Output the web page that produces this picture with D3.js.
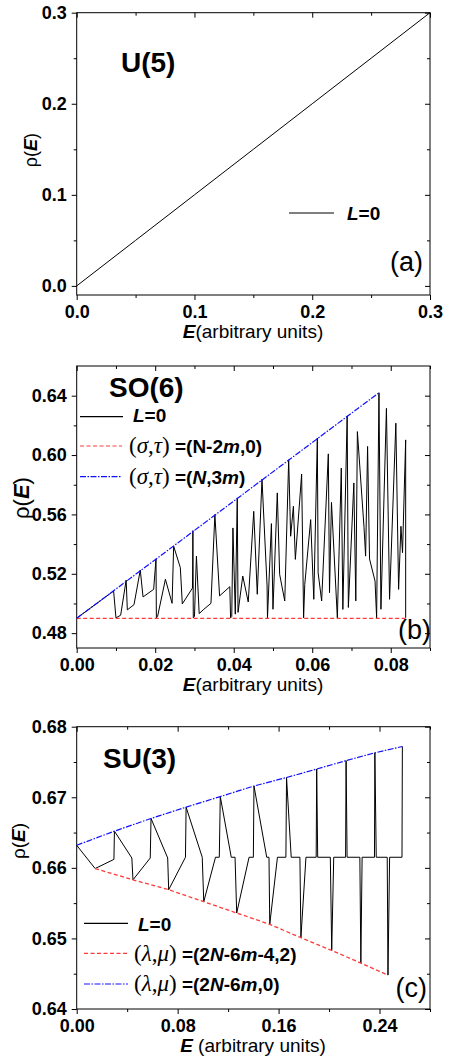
<!DOCTYPE html>
<html>
<head>
<meta charset="utf-8">
<script src="https://cdn.jsdelivr.net/npm/d3@7"></script>
<style>
  body { margin: 0; background: #fff; }
  text { font-family: "Liberation Sans", Arial, sans-serif; }
</style>
</head>
<body>
<div id="chart"></div>
<script>

// ---------- data ----------

// (a) U(5)
var u5E   = [0, 0.05, 0.1, 0.15, 0.2, 0.25, 0.3];
var u5Rho = [0, 0.05, 0.1, 0.15, 0.2, 0.25, 0.3];

// (b) SO(6), L=0 states
var so6E = [0, 0.0094, 0.0100, 0.0112, 0.0126, 0.0129, 0.0146, 0.0162, 0.0169, 0.0196,
            0.0202, 0.0203, 0.0206, 0.0226, 0.0243, 0.0247, 0.0264, 0.0269, 0.0295, 0.0296,
            0.0297, 0.0300, 0.0305, 0.0312, 0.0324, 0.0342, 0.0352, 0.0364, 0.0390, 0.0392,
            0.0395, 0.0398, 0.0404, 0.0409, 0.0411, 0.0423, 0.0437, 0.0451, 0.0460, 0.0472,
            0.0485, 0.0486, 0.0496, 0.0500, 0.0511, 0.0517, 0.0530, 0.0540, 0.0545, 0.0552,
            0.0557, 0.0573, 0.0578, 0.0581, 0.0596, 0.0604, 0.0613, 0.0615, 0.0624, 0.0641,
            0.0644, 0.0649, 0.0664, 0.0674, 0.0678, 0.0689, 0.0692, 0.0706, 0.0711, 0.0715,
            0.0732, 0.0736, 0.0741, 0.0746, 0.0760, 0.0764, 0.0770, 0.0775, 0.0789, 0.0797,
            0.0813, 0.0820, 0.0826, 0.0830, 0.0838, 0.0838];
var so6Rho = [0.4901, 0.5084, 0.4903, 0.4921, 0.5158, 0.4957, 0.4992, 0.5225, 0.5044, 0.5095,
              0.5301, 0.4903, 0.4912, 0.5163, 0.5001, 0.5386, 0.5241, 0.4997, 0.5104, 0.5491,
              0.4903, 0.4912, 0.5319, 0.4932, 0.4961, 0.5001, 0.5599, 0.5051, 0.5113, 0.4903,
              0.4912, 0.5509, 0.4928, 0.5711, 0.4940, 0.5185, 0.5010, 0.5621, 0.5062, 0.5838,
              0.5118, 0.4903, 0.5538, 0.4961, 0.5745, 0.5196, 0.5017, 0.5968, 0.5453, 0.5655,
              0.5297, 0.5872, 0.4903, 0.5129, 0.5565, 0.5028, 0.6114, 0.5207, 0.5017, 0.6008,
              0.5073, 0.5681, 0.4903, 0.5912, 0.4960, 0.6264, 0.4973, 0.5812, 0.5017, 0.6158,
              0.5510, 0.5319, 0.6058, 0.5300, 0.5151, 0.4903, 0.6420, 0.4961, 0.6315, 0.5028,
              0.6215, 0.5095, 0.5520, 0.5342, 0.6102, 0.4903];
// (sigma,tau)=(N-2m,0) and (N,3m)
var so6LowE = [0, 0.0838],  so6LowRho = [0.49, 0.49];
var so6UpE  = [0, 0.0770],  so6UpRho  = [0.49, 0.642];

// (c) SU(3), L=0 states
var su3E = [0, 0.0146, 0.0295, 0.0299, 0.0437, 0.0446, 0.0583, 0.0589, 0.0721, 0.0729,
            0.0862, 0.0867, 0.0995, 0.1007, 0.1100, 0.1130, 0.1138, 0.1225, 0.1255, 0.1268,
            0.1366, 0.1400, 0.1405, 0.1506, 0.1524, 0.1530, 0.1591, 0.1658, 0.1663, 0.1700,
            0.1769, 0.1777, 0.1817, 0.1898, 0.1902, 0.1910, 0.2010, 0.2021, 0.2037, 0.2131,
            0.2135, 0.2143, 0.2244, 0.2252, 0.2262, 0.2360, 0.2363, 0.2374, 0.2461, 0.2467,
            0.2480, 0.2578, 0.2581];
var su3Rho = [0.6632, 0.6599, 0.6612, 0.6652, 0.6614, 0.6583, 0.6614, 0.6670, 0.6614, 0.6569,
              0.6615, 0.6686, 0.6615, 0.6552, 0.6615, 0.6615, 0.6701, 0.6615, 0.6615, 0.6536,
              0.6615, 0.6615, 0.6716, 0.6615, 0.6615, 0.6520, 0.6615, 0.6615, 0.6728, 0.6615,
              0.6615, 0.6501, 0.6615, 0.6615, 0.6740, 0.6615, 0.6615, 0.6483, 0.6615, 0.6615,
              0.6752, 0.6615, 0.6615, 0.6465, 0.6615, 0.6615, 0.6763, 0.6615, 0.6615, 0.6448,
              0.6615, 0.6615, 0.6772];
// (lambda,mu)=(2N-6m-4,2)
var su3LowE   = [0.0146, 0.0446, 0.0729, 0.1007, 0.1268, 0.1530, 0.1777, 0.2021, 0.2252, 0.2467];
var su3LowRho = [0.6599, 0.6583, 0.6569, 0.6552, 0.6536, 0.6520, 0.6501, 0.6483, 0.6465, 0.6448];
// (lambda,mu)=(2N-6m,0)
var su3UpE    = [0, 0.0299, 0.0589, 0.0867, 0.1138, 0.1405, 0.1663, 0.1902, 0.2135, 0.2363, 0.2581];
var su3UpRho  = [0.6632, 0.6652, 0.6670, 0.6686, 0.6701, 0.6716, 0.6728, 0.6740, 0.6752, 0.6763, 0.6772];


// ---------- canvas ----------
var W = 451, H = 1059;
var left = 76.7, right = 430;

var svg = d3.select('#chart').append('svg')
	.attr('width', W)
	.attr('height', H);

var RED  = '#ff3a3a';
var BLUE = '#1010ff';
var DASH_RED  = '4,2.5';
var DASH_BLUE = '6,1.5,1.5,1.5';

function zip(a, b) {
	return a.map(function(d, i) { return [d, b[i]]; });
}

// draws frame, ticks and labels of one panel, returns the scales
function panel(p) {
	var x = d3.scaleLinear().domain(p.xDomain).range([left, right]);
	var y = d3.scaleLinear().domain(p.yDomain).range([p.bottom, p.top]);
	var g = svg.append('g');
	var fmt = d3.format(p.fmt);

	function style(sel, labels) {
		sel.select('.domain').remove();
		sel.selectAll('line').attr('stroke', '#000').attr('stroke-width', 1);
		sel.attr('font-size', 18)
			.attr('font-weight', 'bold')
			.attr('font-family', '"Liberation Sans", Arial, sans-serif')
			.attr('fill', '#000');
		if (!labels) sel.selectAll('text').remove();
	}

	// bottom (out)
	g.append('g').attr('transform', 'translate(0,' + p.bottom + ')')
		.call(d3.axisBottom(x).tickValues(p.xTicks).tickSize(5).tickPadding(5).tickFormat(fmt))
		.call(style, true);
	g.append('g').attr('transform', 'translate(0,' + p.bottom + ')')
		.call(d3.axisBottom(x).tickValues(p.xMinor).tickSize(3))
		.call(style, false);

	// left (out)
	g.append('g').attr('transform', 'translate(' + left + ',0)')
		.call(d3.axisLeft(y).tickValues(p.yTicks).tickSize(5).tickPadding(5).tickFormat(fmt))
		.call(style, true);
	g.append('g').attr('transform', 'translate(' + left + ',0)')
		.call(d3.axisLeft(y).tickValues(p.yMinor).tickSize(3))
		.call(style, false);

	// top and right mirror ticks (in)
	g.append('g').attr('transform', 'translate(0,' + p.top + ')')
		.call(d3.axisTop(x).tickValues(p.xTicks).tickSize(-5))
		.call(style, false);
	g.append('g').attr('transform', 'translate(0,' + p.top + ')')
		.call(d3.axisTop(x).tickValues(p.xMinor).tickSize(-3))
		.call(style, false);
	g.append('g').attr('transform', 'translate(' + right + ',0)')
		.call(d3.axisRight(y).tickValues(p.yTicks).tickSize(-5))
		.call(style, false);
	g.append('g').attr('transform', 'translate(' + right + ',0)')
		.call(d3.axisRight(y).tickValues(p.yMinor).tickSize(-3))
		.call(style, false);

	// frame
	g.append('rect')
		.attr('x', left).attr('y', p.top)
		.attr('width', right - left).attr('height', p.bottom - p.top)
		.attr('fill', 'none').attr('stroke', '#000').attr('stroke-width', 1);

	// x label
	var xl = g.append('text')
		.attr('x', 253).attr('y', p.bottom + 43)
		.attr('text-anchor', 'middle')
		.attr('font-size', 19);
	xl.append('tspan').attr('font-weight', 'bold').attr('font-style', 'italic').text('E');
	xl.append('tspan').text(p.xLabel);

	// y label
	var yl = g.append('text')
		.attr('transform', 'translate(' + p.yLabelX + ',' + p.yLabelY + ') rotate(-90)')
		.attr('text-anchor', 'middle')
		.attr('font-size', p.yLabelSize);
	yl.append('tspan').text('\u03c1(');
	yl.append('tspan').attr('font-weight', 'bold').attr('font-style', 'italic').text('E');
	yl.append('tspan').text(')');

	// group name
	g.append('text')
		.attr('x', p.titleX).attr('y', p.titleY)
		.attr('font-size', 28).attr('font-weight', 'bold')
		.text(p.title);

	// panel letter
	g.append('text')
		.attr('x', p.letterX).attr('y', p.letterY)
		.attr('text-anchor', 'end')
		.attr('font-size', 27)
		.text(p.letter);

	return { x: x, y: y, g: g };
}

function series(s, E, R, color, dash, width) {
	var line = d3.line()
		.x(function(d) { return s.x(d[0]); })
		.y(function(d) { return s.y(d[1]); });
	s.g.append('path')
		.datum(zip(E, R))
		.attr('d', line)
		.attr('fill', 'none')
		.attr('stroke', color)
		.attr('stroke-width', width || 1)
		.attr('stroke-dasharray', dash || null)
		.attr('stroke-linejoin', 'miter');
}

function legendLine(s, x0, x1, y, color, dash) {
	s.g.append('line')
		.attr('x1', x0).attr('x2', x1).attr('y1', y).attr('y2', y)
		.attr('stroke', color).attr('stroke-width', 1.2)
		.attr('stroke-dasharray', dash || null);
}

// "L=0" entry
function legendL(s, x0, x1, y, tx, ty) {
	legendLine(s, x0, x1, y, '#000', null);
	var t = s.g.append('text').attr('x', tx).attr('y', ty)
		.attr('font-size', 19).attr('font-weight', 'bold');
	t.append('tspan').attr('font-style', 'italic').text('L');
	t.append('tspan').text('=0');
}

// "(a,b) =(...)" entry, greek pair in italic serif
function legendGreek(s, x0, x1, y, color, dash, tx, ty, a, b, rest) {
	legendLine(s, x0, x1, y, color, dash);
	var t = s.g.append('text').attr('x', tx).attr('y', ty);
	var serif = '"Liberation Serif", "Times New Roman", serif';
	[['(', false], [a, true], [',', false], [b, true], [')', false]].forEach(function(p) {
		t.append('tspan').text(p[0])
			.attr('font-family', serif).attr('font-size', 23)
			.attr('font-style', p[1] ? 'italic' : 'normal');
	});
	t.append('tspan').text('\u00a0').attr('font-size', 19);
	rest.forEach(function(p) {
		t.append('tspan').text(p[0])
			.attr('font-size', 19).attr('font-weight', 'bold')
			.attr('font-style', p[1] ? 'italic' : 'normal');
	});
}

// ---------- (a) U(5) ----------
var a = panel({
	top: 12.7, bottom: 295,
	xDomain: [0, 0.3], yDomain: [-0.01, 0.3],
	xTicks: [0, 0.1, 0.2, 0.3], xMinor: [0.05, 0.15, 0.25],
	yTicks: [0, 0.1, 0.2, 0.3], yMinor: [0.05, 0.15, 0.25],
	fmt: '.1f',
	xLabel: '(arbitrary units)',
	yLabelX: 37, yLabelY: 150, yLabelSize: 18,
	title: 'U(5)', titleX: 121, titleY: 72,
	letter: '(a)', letterX: 423, letterY: 271
});
series(a, u5E, u5Rho, '#000', null, 1);
legendL(a, 289, 334, 213, 347, 219.5);

// ---------- (b) SO(6) ----------
var b = panel({
	top: 366, bottom: 648,
	xDomain: [0, 0.09], yDomain: [0.47, 0.66],
	xTicks: [0, 0.02, 0.04, 0.06, 0.08], xMinor: [0.01, 0.03, 0.05, 0.07, 0.09],
	yTicks: [0.48, 0.52, 0.56, 0.60, 0.64], yMinor: [0.50, 0.54, 0.58, 0.62],
	fmt: '.2f',
	xLabel: '(arbitrary units)',
	yLabelX: 29, yLabelY: 498, yLabelSize: 22,
	title: 'SO(6)', titleX: 109, titleY: 397,
	letter: '(b)', letterX: 431, letterY: 639
});
series(b, so6E, so6Rho, '#000', null, 1);
series(b, so6LowE, so6LowRho, RED, DASH_RED, 1.3);
series(b, so6UpE, so6UpRho, BLUE, DASH_BLUE, 1.2);
legendL(b, 80, 123, 416.7, 133, 422);
legendGreek(b, 80, 122, 446, RED, DASH_RED, 129, 453, '\u03c3', '\u03c4',
	[['=(N-2', false], ['m', true], [',0)', false]]);
legendGreek(b, 80, 122, 476.7, BLUE, DASH_BLUE, 129, 484, '\u03c3', '\u03c4',
	[['=(', false], ['N', true], [',3', false], ['m', true], [')', false]]);

// ---------- (c) SU(3) ----------
var c = panel({
	top: 726.7, bottom: 1009,
	xDomain: [0, 0.28], yDomain: [0.64, 0.68],
	xTicks: [0, 0.08, 0.16, 0.24], xMinor: [0.04, 0.12, 0.20, 0.28],
	yTicks: [0.64, 0.65, 0.66, 0.67, 0.68], yMinor: [0.645, 0.655, 0.665, 0.675],
	fmt: '.2f',
	xLabel: ' (arbitrary units)',
	yLabelX: 25, yLabelY: 841, yLabelSize: 19,
	title: 'SU(3)', titleX: 103, titleY: 768,
	letter: '(c)', letterX: 427, letterY: 997
});
series(c, su3E, su3Rho, '#000', null, 1);
series(c, su3LowE, su3LowRho, RED, DASH_RED, 1.3);
series(c, su3UpE, su3UpRho, BLUE, DASH_BLUE, 1.2);
legendL(c, 84, 128, 923.3, 138, 931);
legendGreek(c, 84, 128, 953.3, RED, DASH_RED, 134, 961, '\u03bb', '\u03bc',
	[['=(2', false], ['N', true], ['-6', false], ['m', true], ['-4,2)', false]]);
legendGreek(c, 84, 128, 984, BLUE, DASH_BLUE, 134, 991, '\u03bb', '\u03bc',
	[['=(2', false], ['N', true], ['-6', false], ['m', true], [',0)', false]]);

</script>
</body>
</html>
